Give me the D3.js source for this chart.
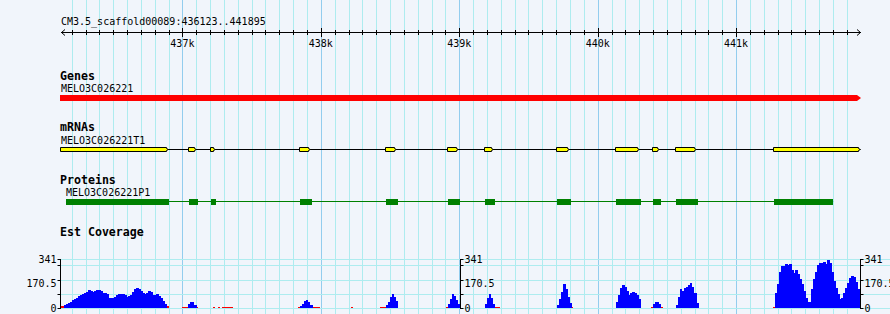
<!DOCTYPE html>
<html>
<head>
<meta charset="utf-8">
<script src="https://cdn.jsdelivr.net/npm/d3@7"></script>
<style>
  html, body { margin: 0; padding: 0; background: #f1f5fb; }
  svg { display: block; }
  text { font-family: 'DejaVu Sans Mono', monospace; }
</style>
</head>
<body>
<svg id="viz"></svg>
<script>
const width = 890;
const height = 314;

// region shown
const region = [436123, 441895];
const regionTitle = 'CM3.5_scaffold00089:436123..441895';
const majorTicks = [437000, 438000, 439000, 440000, 441000];
const tickLabels = ['437k', '438k', '439k', '440k', '441k'];

// tracks
const trackNames = ['Genes', 'mRNAs', 'Proteins', 'Est Coverage'];
const geneName = 'MELO3C026221';
const geneSpan = [436123, 441895];
const mrnaName = 'MELO3C026221T1';
const mrnaExons = [
  [436123, 436894], [437048, 437098], [437209, 437233], [437850, 437922],
  [438471, 438541], [438919, 438989], [439186, 439242], [439707, 439791],
  [440133, 440301], [440400, 440441], [440566, 440711], [441274, 441895],
];
const proteinName = 'MELO3C026221P1';
const cdsParts = [
  [436159, 436901], [437048, 437113], [437207, 437243], [437850, 437936],
  [438471, 438558], [438919, 439006], [439186, 439259], [439707, 439808],
  [440133, 440313], [440400, 440458], [440566, 440725], [441274, 441701],
];

// EST coverage (bins of covStep bp starting at each peak start)
const covStep = 14.5;
const covStarts = [436145, 437041, 437850, 438471, 438919, 439186, 439707, 440133, 440400, 440566, 441282];
const covValues = [
  [21, 28, 37, 44, 54, 61, 72, 84, 93, 100, 105, 114, 126, 121, 114, 121, 126, 124, 117, 107,
   103, 96, 72, 72, 72, 79, 91, 98, 98, 98, 89, 79, 84, 91, 110, 135, 140, 135, 121, 107,
   96, 103, 117, 110, 91, 91, 96, 86, 72, 49, 26],
  [25, 44, 44, 20],
  [14, 30, 48, 56, 42, 20],
  [20, 45, 75, 98, 80, 50],
  [25, 60, 98, 85, 55, 25],
  [30, 70, 98, 70, 30],
  [20, 60, 110, 168, 130, 80, 35],
  [40, 90, 138, 161, 149, 120, 91, 103, 112, 105, 90, 60],
  [25, 40, 40, 25],
  [21, 79, 131, 117, 138, 149, 159, 173, 149, 103, 33],
  [103, 168, 250, 290, 289, 303, 299, 308, 261, 247, 261, 240, 205, 165, 115, 70, 40, 45, 130, 200,
   250, 300, 313, 313, 317, 305, 336, 316, 254, 190, 142, 95, 61, 70, 103, 140, 175, 210, 224, 215,
   180, 130, 50],
];
// low coverage pieces drawn in red: [start, end, value]
const covLow = [
  [436123, 436145, 14], [436882, 436903, 14], [436997, 437048, 5], [437091, 437113, 7],
  [437221, 437236, 5], [437257, 437272, 4], [437286, 437322, 7], [437322, 437366, 4],
  [437835, 437850, 5], [437936, 437994, 5], [438218, 438233, 5], [438428, 438471, 5],
  [438905, 438919, 7], [439259, 439295, 5], [439808, 439822, 5], [440386, 440400, 7],
  [440458, 440472, 7], [440718, 440732, 7], [441267, 441282, 10],
];
const covMax = 341;
const covTicks = [0, 170.5, 341];
const covTickLabels = ['0', '170.5', '341'];
const covGrid = [0, 98, 197, 302, 341];

const colors = {
  minorGrid: '#aeecef',
  majorGrid: '#93cdee',
  gene: '#ff0000',
  exon: '#ffff00',
  cds: '#008000',
  cov: '#0000ff',
  covLow: '#ff0000',
};

const svg = d3.select('#viz').attr('width', width).attr('height', height);

const x = d3.scaleLinear().domain(region).range([61, 860]);
const px = (v) => Math.round(x(v)) + 0.5;

// vertical grid
const gridPos = d3.range(436200, region[1], 100);
svg.append('g')
  .selectAll('line')
  .data(gridPos)
  .join('line')
  .attr('x1', px)
  .attr('x2', px)
  .attr('y1', 0)
  .attr('y2', height)
  .attr('stroke', (d) => (d % 1000 === 0 ? colors.majorGrid : colors.minorGrid))
  .attr('stroke-width', 1);

// ruler
const ruler = svg.append('g');
ruler.append('text')
  .attr('x', 61)
  .attr('y', 25)
  .attr('font-size', 10)
  .text(regionTitle);
ruler.append('line')
  .attr('x1', x(region[0]))
  .attr('x2', x(region[1]) + 1)
  .attr('y1', 32.5)
  .attr('y2', 32.5)
  .attr('stroke', '#000');
ruler.append('path')
  .attr('d', 'M65,29.5 L61.5,32.5 L65,35.5')
  .attr('fill', 'none')
  .attr('stroke', '#000');
ruler.append('path')
  .attr('d', 'M857,29.5 L860.5,32.5 L857,35.5')
  .attr('fill', 'none')
  .attr('stroke', '#000');
ruler.selectAll('line.tick')
  .data(gridPos)
  .join('line')
  .attr('class', 'tick')
  .attr('x1', px)
  .attr('x2', px)
  .attr('y1', (d) => (d % 1000 === 0 ? 28 : 30))
  .attr('y2', (d) => (d % 1000 === 0 ? 37 : 35))
  .attr('stroke', '#000');
ruler.selectAll('text.lbl')
  .data(majorTicks)
  .join('text')
  .attr('class', 'lbl')
  .attr('x', (d) => x(d))
  .attr('y', 46.5)
  .attr('font-size', 10)
  .attr('text-anchor', 'middle')
  .text((d, i) => tickLabels[i]);

// track titles
const titleY = [80, 131, 184, 236];
svg.append('g')
  .selectAll('text')
  .data(trackNames)
  .join('text')
  .attr('x', 60)
  .attr('y', (d, i) => titleY[i])
  .attr('font-size', 11.6)
  .attr('font-weight', 'bold')
  .text((d) => d);

// gene
const gx0 = x(geneSpan[0]) - 1;
const gx1 = x(geneSpan[1]) + 1;
svg.append('path')
  .attr('d', `M${gx0},95 L${gx1 - 4},95 L${gx1},98 L${gx1 - 4},101 L${gx0},101 Z`)
  .attr('fill', colors.gene);
svg.append('text')
  .attr('x', 61)
  .attr('y', 92)
  .attr('font-size', 10)
  .text(geneName);

// mRNA
svg.append('text')
  .attr('x', 61)
  .attr('y', 143.5)
  .attr('font-size', 10)
  .text(mrnaName);
svg.append('line')
  .attr('x1', x(mrnaExons[0][0]))
  .attr('x2', x(mrnaExons[mrnaExons.length - 1][1]))
  .attr('y1', 149.5)
  .attr('y2', 149.5)
  .attr('stroke', '#000');
svg.append('g')
  .selectAll('path')
  .data(mrnaExons)
  .join('path')
  .attr('d', (d) => {
    const a = Math.round(x(d[0])) - 0.5;
    const b = Math.round(x(d[1])) + 0.5;
    const t = b - 2;
    return `M${a},147.5 L${t},147.5 L${t},148.5 L${b},149.5 L${t},150.5 L${t},151.5 L${a},151.5 Z`;
  })
  .attr('fill', colors.exon)
  .attr('stroke', '#000')
  .attr('stroke-width', 1);

// protein
svg.append('text')
  .attr('x', 66)
  .attr('y', 195.5)
  .attr('font-size', 10)
  .text(proteinName);
svg.append('line')
  .attr('x1', x(cdsParts[0][0]))
  .attr('x2', x(cdsParts[cdsParts.length - 1][1]))
  .attr('y1', 201.5)
  .attr('y2', 201.5)
  .attr('stroke', colors.cds);
svg.append('g')
  .selectAll('rect')
  .data(cdsParts)
  .join('rect')
  .attr('x', (d) => Math.round(x(d[0])))
  .attr('width', (d) => Math.round(x(d[1])) - Math.round(x(d[0])))
  .attr('y', 199)
  .attr('height', 6)
  .attr('fill', colors.cds);

// coverage
const yc = d3.scaleLinear().domain([0, covMax]).range([308, 259]);
const cov = svg.append('g');

cov.selectAll('line.hgrid')
  .data(covGrid)
  .join('line')
  .attr('class', 'hgrid')
  .attr('x1', 60)
  .attr('x2', width)
  .attr('y1', (d) => Math.round(yc(d)) + 0.5)
  .attr('y2', (d) => Math.round(yc(d)) + 0.5)
  .attr('stroke', colors.minorGrid);

svg.append('clipPath')
  .attr('id', 'covclip')
  .append('rect')
  .attr('x', 61)
  .attr('y', 250)
  .attr('width', 800)
  .attr('height', 60);

const bars = cov.append('g').attr('clip-path', 'url(#covclip)').attr('shape-rendering', 'crispEdges');

bars.selectAll('rect.low')
  .data(covLow)
  .join('rect')
  .attr('class', 'low')
  .attr('x', (d) => x(d[0]))
  .attr('width', (d) => x(d[1]) - x(d[0]))
  .attr('y', (d) => yc(d[2]))
  .attr('height', (d) => yc(0) - yc(d[2]))
  .attr('fill', colors.covLow);

const bins = [];
covValues.forEach((vals, i) => {
  vals.forEach((v, j) => {
    bins.push({ start: covStarts[i] + j * covStep, end: covStarts[i] + (j + 1) * covStep, value: v });
  });
});

bars.selectAll('rect.bin')
  .data(bins)
  .join('rect')
  .attr('class', 'bin')
  .attr('x', (d) => x(d.start))
  .attr('width', (d) => x(d.end) - x(d.start) + 0.4)
  .attr('y', (d) => yc(d.value))
  .attr('height', (d) => yc(0) - yc(d.value))
  .attr('fill', colors.cov);

// coverage axes: left, middle, right
const axisPos = [
  { x: 60.5, side: -1 },
  { x: Math.round((x(region[0]) + x(region[1])) / 2) - 0.5, side: 1 },
  { x: 860.5, side: 1 },
];
axisPos.forEach((a) => {
  const g = cov.append('g');
  g.append('line')
    .attr('x1', a.x)
    .attr('x2', a.x)
    .attr('y1', Math.round(yc(covMax)))
    .attr('y2', Math.round(yc(0)) + 1)
    .attr('stroke', '#000');
  g.selectAll('line.t')
    .data(covGrid)
    .join('line')
    .attr('class', 't')
    .attr('x1', a.x)
    .attr('x2', a.x + a.side * 3)
    .attr('y1', (d) => Math.round(yc(d)) + 0.5)
    .attr('y2', (d) => Math.round(yc(d)) + 0.5)
    .attr('stroke', '#000');
  g.selectAll('text')
    .data(covTicks)
    .join('text')
    .attr('x', a.x + a.side * 4)
    .attr('y', (d) => yc(d) + 3.5)
    .attr('font-size', 10)
    .attr('text-anchor', a.side < 0 ? 'end' : 'start')
    .text((d, i) => covTickLabels[i]);
});
</script>
</body>
</html>
